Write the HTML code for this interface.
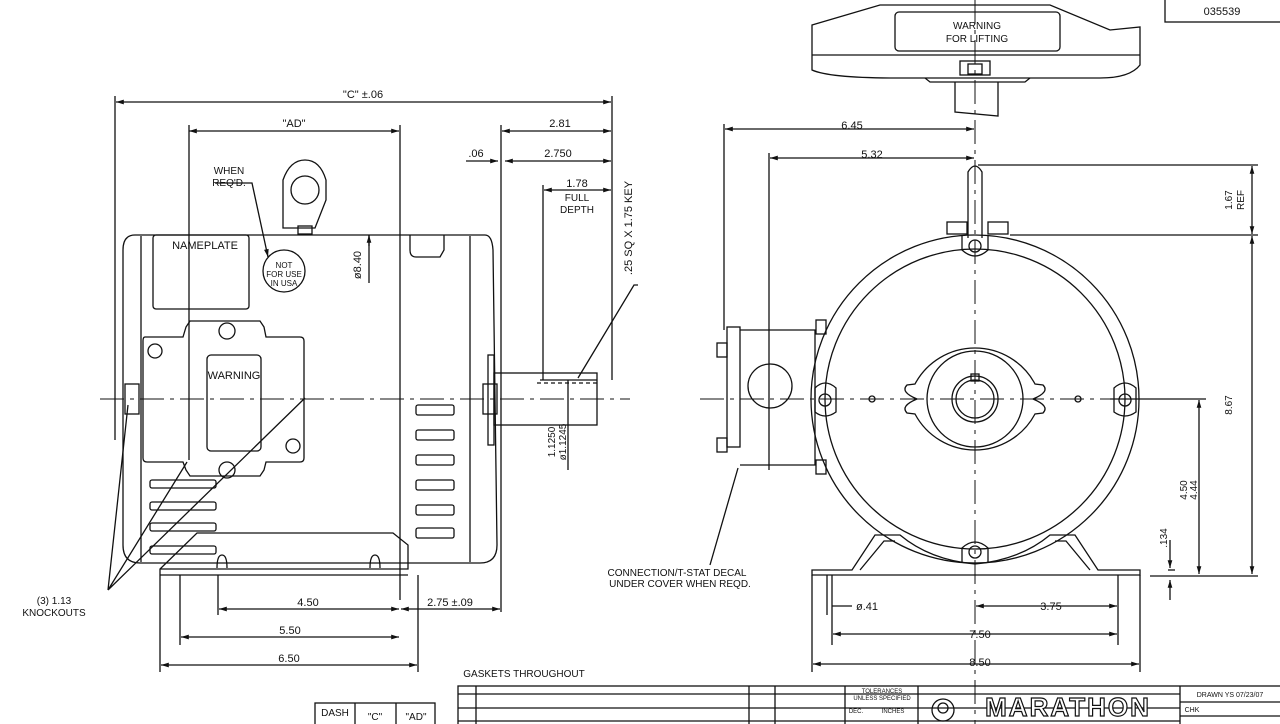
<!DOCTYPE html>
<html><head><meta charset="utf-8"><style>
html,body{margin:0;padding:0;background:#fff;}
svg{display:block;}
text{font-family:"Liberation Sans",sans-serif;fill:#111;}
</style></head><body>
<svg width="1280" height="724" viewBox="0 0 1280 724" xmlns="http://www.w3.org/2000/svg">
<defs>
<marker id="a" viewBox="0 0 10 10" refX="10" refY="5" markerWidth="8" markerHeight="6" orient="auto-start-reverse"><path d="M0,2 L10,5 L0,8z" fill="#111"/></marker>
</defs>
<g stroke="#111" stroke-width="1.3" fill="none">
<line x1="116" y1="102" x2="611" y2="102" marker-start="url(#a)" marker-end="url(#a)"/>
<line x1="115" y1="96" x2="115" y2="440"/><line x1="612" y1="96" x2="612" y2="380"/>
<line x1="189" y1="131" x2="399" y2="131" marker-start="url(#a)" marker-end="url(#a)"/>
<line x1="189" y1="125" x2="189" y2="460"/><line x1="400" y1="125" x2="400" y2="600"/>
<line x1="502" y1="131" x2="611" y2="131" marker-start="url(#a)" marker-end="url(#a)"/>
<line x1="501" y1="125" x2="501" y2="612"/>
<line x1="505" y1="161" x2="611" y2="161" marker-start="url(#a)" marker-end="url(#a)"/>
<line x1="466" y1="161" x2="498" y2="161" marker-end="url(#a)"/>
<line x1="544" y1="190" x2="611" y2="190" marker-start="url(#a)" marker-end="url(#a)"/>
<line x1="543" y1="185" x2="543" y2="380"/>
<path d="M135,235 L485,235 Q492,235 493,250 L497,545 Q497,563 480,563 L140,563 Q123,563 123,545 L123,250 Q123,235 135,235z"/>
<line x1="141" y1="236" x2="141" y2="562"/><line x1="470" y1="236" x2="470" y2="562"/>
<rect x="153" y="235" width="96" height="74" rx="3"/>
<path d="M410,235 L410,250 Q410,257 416,257 L440,257 L444,250 L444,235"/>
<path d="M283,228 L283,180 Q290,160 305,160 Q320,160 326,180 L326,200 L315,228 Z"/>
<circle cx="305" cy="190" r="14"/>
<rect x="298" y="226" width="14" height="8"/>
<circle cx="284" cy="271" r="21"/>
<path d="M215,183 L252,183 L268,257" marker-end="url(#a)"/>
<line x1="369" y1="235" x2="369" y2="283"/><line x1="369" y1="235" x2="369" y2="246" marker-start="url(#a)"/>
<path d="M145,337 L183,337 L186,327 L190,321 L260,321 L264,327 L266,337 L300,337 Q304,337 304,341 L304,458 Q304,462 300,462 L266,462 L264,470 L260,476 L190,476 L186,470 L183,462 L147,462 Q143,462 143,458 L143,341 Q143,337 145,337z"/>
<rect x="207" y="355" width="54" height="96" rx="4"/>
<circle cx="155" cy="351" r="7"/><circle cx="293" cy="446" r="7"/>
<circle cx="227" cy="331" r="8"/><circle cx="227" cy="470" r="8"/>
<rect x="125" y="384" width="14" height="30"/><rect x="483" y="384" width="14" height="30"/>
<rect x="488" y="355" width="6" height="90"/>
<rect x="416" y="405" width="38" height="10" rx="2"/><rect x="416" y="430" width="38" height="10" rx="2"/>
<rect x="416" y="455" width="38" height="10" rx="2"/><rect x="416" y="480" width="38" height="10" rx="2"/>
<rect x="416" y="505" width="38" height="10" rx="2"/><rect x="416" y="528" width="38" height="10" rx="2"/>
<rect x="150" y="480" width="66" height="8" rx="2"/><rect x="150" y="502" width="66" height="8" rx="2"/>
<rect x="150" y="523" width="66" height="8" rx="2"/><rect x="150" y="546" width="66" height="8" rx="2"/>
<rect x="494" y="373" width="103" height="52"/>
<line x1="540" y1="380" x2="597" y2="380"/>
<line x1="537" y1="383" x2="597" y2="383" stroke-dasharray="4,3"/>
<line x1="568" y1="380" x2="568" y2="470"/>
<path d="M578,378 L634,285 L638,285"/>
<path d="M160,575 L160,569 L197,533 L393,533 L408,545 L408,569 L160,569"/>
<line x1="160" y1="575" x2="408" y2="575"/>
<path d="M217,568 Q217,555 222,555 Q227,555 227,568"/><path d="M370,568 Q370,555 375,555 Q380,555 380,568"/>
<line x1="160" y1="575" x2="160" y2="672"/><line x1="180" y1="575" x2="180" y2="645"/><line x1="218" y1="575" x2="218" y2="615"/>
<line x1="418" y1="575" x2="418" y2="672"/>
<line x1="219" y1="609" x2="399" y2="609" marker-start="url(#a)" marker-end="url(#a)"/>
<line x1="401" y1="609" x2="500" y2="609" marker-start="url(#a)" marker-end="url(#a)"/>
<line x1="181" y1="637" x2="399" y2="637" marker-start="url(#a)" marker-end="url(#a)"/>
<line x1="161" y1="665" x2="417" y2="665" marker-start="url(#a)" marker-end="url(#a)"/>
<path d="M108,590 L128,405 M108,590 L187,462 M108,590 L305,398"/>
</g>
<line x1="100" y1="399" x2="630" y2="399" stroke="#111" stroke-width="1" stroke-dasharray="24,6,4,6"/>
<g stroke="#111" stroke-width="1.3" fill="none">
<line x1="975" y1="0" x2="975" y2="724" stroke-width="1" stroke-dasharray="24,6,4,6"/>
<line x1="700" y1="399" x2="1210" y2="399" stroke-width="1" stroke-dasharray="24,6,4,6"/>
<line x1="725" y1="129" x2="974" y2="129" marker-start="url(#a)" marker-end="url(#a)"/>
<line x1="724" y1="124" x2="724" y2="330"/>
<line x1="770" y1="158" x2="974" y2="158" marker-start="url(#a)" marker-end="url(#a)"/>
<line x1="769" y1="153" x2="769" y2="470"/>
<line x1="978" y1="165" x2="1258" y2="165"/><line x1="1010" y1="235" x2="1258" y2="235"/>
<line x1="1252" y1="166" x2="1252" y2="234" marker-start="url(#a)" marker-end="url(#a)"/>
<line x1="1252" y1="236" x2="1252" y2="574" marker-start="url(#a)" marker-end="url(#a)"/>
<line x1="1150" y1="576" x2="1258" y2="576"/>
<line x1="1110" y1="399" x2="1206" y2="399"/>
<line x1="1199" y1="400" x2="1199" y2="574" marker-start="url(#a)" marker-end="url(#a)"/>
<line x1="1168" y1="570" x2="1175" y2="570"/>
<line x1="1170" y1="540" x2="1170" y2="568" marker-end="url(#a)"/>
<line x1="1170" y1="600" x2="1170" y2="580" marker-end="url(#a)"/>
<circle cx="975" cy="399" r="164"/><circle cx="975" cy="399" r="150"/>
<path d="M917,399 Q900,392 907,385 L915,384 A68,68 0 0 1 1035,384 L1043,385 Q1050,392 1033,399 Q1050,406 1043,413 L1035,414 A68,68 0 0 1 915,414 L907,413 Q900,406 917,399z"/>
<circle cx="975" cy="399" r="48"/><circle cx="975" cy="399" r="23"/><circle cx="975" cy="399" r="19"/>
<rect x="971" y="374" width="8" height="7"/>
<circle cx="872" cy="399" r="3"/><circle cx="1078" cy="399" r="3"/>
<path d="M968,238 L968,172 Q975,160 982,172 L982,238"/>
<rect x="947" y="222" width="20" height="12"/><rect x="988" y="222" width="20" height="12"/>
<path d="M962,236 L962,250 Q975,262 988,250 L988,236"/><circle cx="975" cy="246" r="6"/>
<path d="M962,562 L962,548 Q975,536 988,548 L988,562"/><circle cx="975" cy="552" r="6"/>
<path d="M815,388 Q825,378 836,388 L836,412 Q825,420 815,412z"/><circle cx="825" cy="400" r="6"/>
<path d="M1114,388 Q1125,378 1136,388 L1136,412 Q1125,420 1114,412z"/><circle cx="1125" cy="400" r="6"/>
<rect x="727" y="327" width="13" height="120"/>
<path d="M740,330 L815,330 L815,465 L740,465"/>
<circle cx="770" cy="386" r="22"/>
<rect x="717" y="343" width="10" height="14"/><rect x="717" y="438" width="10" height="14"/>
<rect x="816" y="320" width="10" height="14"/><rect x="816" y="460" width="10" height="14"/>
<path d="M738,468 L710,565"/>
<path d="M812,575 L812,570 L852,570 L875,535 L900,535 Q930,560 975,564 Q1020,560 1050,535 L1075,535 L1098,570 L1140,570 L1140,575 Z"/>
<path d="M860,570 L884,541 L895,541 M1090,570 L1066,541 L1055,541"/>
<line x1="812" y1="575" x2="812" y2="672"/><line x1="827" y1="575" x2="827" y2="615"/><line x1="832" y1="575" x2="832" y2="645"/>
<line x1="1118" y1="575" x2="1118" y2="645"/><line x1="1140" y1="575" x2="1140" y2="672"/>
<line x1="832" y1="606" x2="852" y2="606"/>
<line x1="976" y1="606" x2="1117" y2="606" marker-start="url(#a)" marker-end="url(#a)"/>
<line x1="833" y1="634" x2="1117" y2="634" marker-start="url(#a)" marker-end="url(#a)"/>
<line x1="813" y1="664" x2="1139" y2="664" marker-start="url(#a)" marker-end="url(#a)"/>
<path d="M812,25 L880,5 L1050,5 L1110,30 L1140,27 L1140,65 Q1130,78 1100,78 L895,78 Q830,78 812,70 Z"/>
<line x1="812" y1="55" x2="1140" y2="55"/>
<rect x="895" y="12" width="165" height="39" rx="4"/>
<rect x="960" y="61" width="30" height="14"/><rect x="968" y="64" width="14" height="10"/>
<path d="M925,78 L930,82 L1025,82 L1030,78"/>
<path d="M955,82 L955,112 L998,116 L998,82"/>
<rect x="1165" y="-2" width="120" height="24"/>
<rect x="458" y="686" width="830" height="50"/>
<line x1="458" y1="694" x2="1180" y2="694"/><line x1="458" y1="708" x2="1180" y2="708"/><line x1="458" y1="721" x2="1180" y2="721"/>
<line x1="476" y1="686" x2="476" y2="724"/><line x1="749" y1="686" x2="749" y2="724"/><line x1="775" y1="686" x2="775" y2="724"/>
<line x1="845" y1="686" x2="845" y2="724"/><line x1="918" y1="686" x2="918" y2="724"/><line x1="1180" y1="686" x2="1180" y2="724"/>
<line x1="1180" y1="702" x2="1288" y2="702"/><line x1="1180" y1="716" x2="1288" y2="716"/>
<rect x="315" y="703" width="120" height="30"/><line x1="355" y1="703" x2="355" y2="724"/><line x1="396" y1="703" x2="396" y2="724"/>
<circle cx="943" cy="710" r="11"/><circle cx="943" cy="708" r="5"/>
</g>
<g font-size="11" text-anchor="middle">
<text x="363" y="98">"C" ±.06</text>
<text x="294" y="127">"AD"</text>
<text x="560" y="127">2.81</text>
<text x="476" y="157">.06</text>
<text x="558" y="157">2.750</text>
<text x="577" y="187">1.78</text>
<text x="577" y="201" font-size="10">FULL</text>
<text x="577" y="213" font-size="10">DEPTH</text>
<text x="229" y="174" font-size="10">WHEN</text>
<text x="229" y="186" font-size="10">REQ'D.</text>
<text x="205" y="249">NAMEPLATE</text>
<text x="284" y="268" font-size="8">NOT</text>
<text x="284" y="277" font-size="8">FOR USE</text>
<text x="284" y="286" font-size="8">IN USA</text>
<text x="234" y="379">WARNING</text>
<text x="361" y="265" transform="rotate(-90 361 265)">ø8.40</text>
<text x="632" y="228" transform="rotate(-90 632 228)">.25 SQ X 1.75 KEY</text>
<text x="555" y="442" transform="rotate(-90 555 442)" font-size="10">1.1250</text>
<text x="566" y="442" transform="rotate(-90 566 442)" font-size="10">ø1.1245</text>
<text x="308" y="606">4.50</text>
<text x="450" y="606">2.75 ±.09</text>
<text x="290" y="634">5.50</text>
<text x="289" y="662">6.50</text>
<text x="54" y="604" font-size="10">(3) 1.13</text>
<text x="54" y="616" font-size="10">KNOCKOUTS</text>
<text x="524" y="677" font-size="10">GASKETS THROUGHOUT</text>
<text x="852" y="129">6.45</text>
<text x="872" y="158">5.32</text>
<text x="977" y="29" font-size="10">WARNING</text>
<text x="977" y="42" font-size="10">FOR LIFTING</text>
<text x="1222" y="15">035539</text>
<text x="1232" y="200" transform="rotate(-90 1232 200)" font-size="10">1.67</text>
<text x="1244" y="200" transform="rotate(-90 1244 200)" font-size="10">REF</text>
<text x="1232" y="405" transform="rotate(-90 1232 405)" font-size="10">8.67</text>
<text x="1187" y="490" transform="rotate(-90 1187 490)" font-size="10">4.50</text>
<text x="1197" y="490" transform="rotate(-90 1197 490)" font-size="10">4.44</text>
<text x="1167" y="538" transform="rotate(-90 1167 538)" font-size="10">.134</text>
<text x="677" y="576" font-size="10">CONNECTION/T-STAT DECAL</text>
<text x="680" y="587" font-size="10">UNDER COVER WHEN REQD.</text>
<text x="867" y="610">ø.41</text>
<text x="1051" y="610">3.75</text>
<text x="980" y="638">7.50</text>
<text x="980" y="666">8.50</text>
<text x="335" y="716" font-size="10">DASH</text>
<text x="375" y="720" font-size="10">"C"</text>
<text x="416" y="720" font-size="10">"AD"</text>
<text x="882" y="693" font-size="6">TOLERANCES</text>
<text x="882" y="700" font-size="6">UNLESS SPECIFIED</text>
<text x="856" y="713" font-size="6">DEC.</text>
<text x="893" y="713" font-size="6">INCHES</text>
<text x="1068" y="716" font-size="26" font-weight="bold" style="fill:#fff;stroke:#111;stroke-width:1.2" letter-spacing="2">MARATHON</text>
<text x="1230" y="697" font-size="7">DRAWN  YS 07/23/07</text>
<text x="1192" y="712" font-size="7">CHK</text>
</g>
</svg>
</body></html>
